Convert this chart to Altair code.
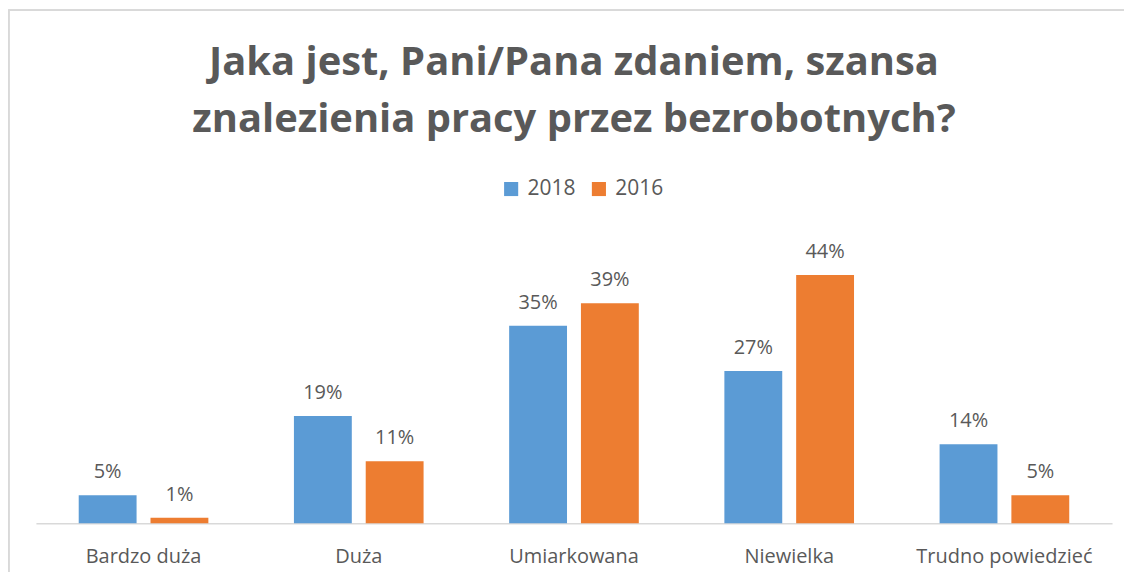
import altair as alt
import pandas as pd

categories = ["Bardzo duża", "Duża", "Umiarkowana", "Niewielka", "Trudno powiedzieć"]
series = ["2018", "2016"]
values_2018 = [5, 19, 35, 27, 14]
values_2016 = [1, 11, 39, 44, 5]

rows = []
for c, a, b in zip(categories, values_2018, values_2016):
    rows.append({"cat": c, "year": "2018", "v": a, "label": f"{a}%"})
    rows.append({"cat": c, "year": "2016", "v": b, "label": f"{b}%"})
df = pd.DataFrame(rows)

FONT = "Open Sans"
GRAY = "#595959"

x = alt.X("cat:N", sort=categories, title=None,
          scale=alt.Scale(paddingInner=0, paddingOuter=0),
          axis=alt.Axis(labelAngle=0, labelFont=FONT, labelFontSize=20, labelColor=GRAY,
                        labelPadding=23, ticks=False, domainColor="#D9D9D9", domainWidth=1.5))
xo = alt.XOffset("year:N", sort=series,
                 scale=alt.Scale(paddingInner=0.194, paddingOuter=0.596))
y = alt.Y("v:Q", scale=alt.Scale(domain=[0, 50]), axis=None)
color = alt.Color("year:N", sort=series,
                  scale=alt.Scale(domain=series, range=["#5B9BD5", "#ED7D31"]),
                  legend=alt.Legend(title=None, orient="none", direction="horizontal",
                                    legendX=466, legendY=-63, symbolType="square",
                                    symbolSize=200, symbolStrokeWidth=0,
                                    labelFont=FONT, labelFontSize=21, labelColor=GRAY,
                                    columnPadding=12, labelOffset=6))

bars = alt.Chart(df).mark_bar().encode(x=x, xOffset=xo, y=y, color=color)
labels = alt.Chart(df).mark_text(font=FONT, fontSize=20, color=GRAY, dy=-17,
                                 baseline="alphabetic").encode(
    x=x, xOffset=xo, y=y, text="label:N")

border_top = alt.Chart(df).mark_rule(color="#D9D9D9", strokeWidth=1.5).encode(
    x=alt.value(-27.5), x2=alt.value(1100), y=alt.value(-231.5))
border_left = alt.Chart(df).mark_rule(color="#D9D9D9", strokeWidth=1.5).encode(
    x=alt.value(-27.5), y=alt.value(-231.5), y2=alt.value(340))

chart = alt.layer(border_top, border_left, bars, labels).properties(
    width=1079, height=283,
    padding={"left": 28, "top": 233, "right": 12, "bottom": 48},
    autosize=alt.AutoSizeParams(type="none"),
    title=alt.TitleParams(
        text=["Jaka jest, Pani/Pana zdaniem, szansa", "znalezienia pracy przez bezrobotnych?"],
        font=FONT, fontSize=40, fontWeight="bold", color=GRAY, lineHeight=57,
        anchor="middle", frame="group", offset=0, dy=131),
).configure(background="white").configure_view(stroke=None)

chart.save("out.html", embed_options={"renderer": "svg", "actions": False})
